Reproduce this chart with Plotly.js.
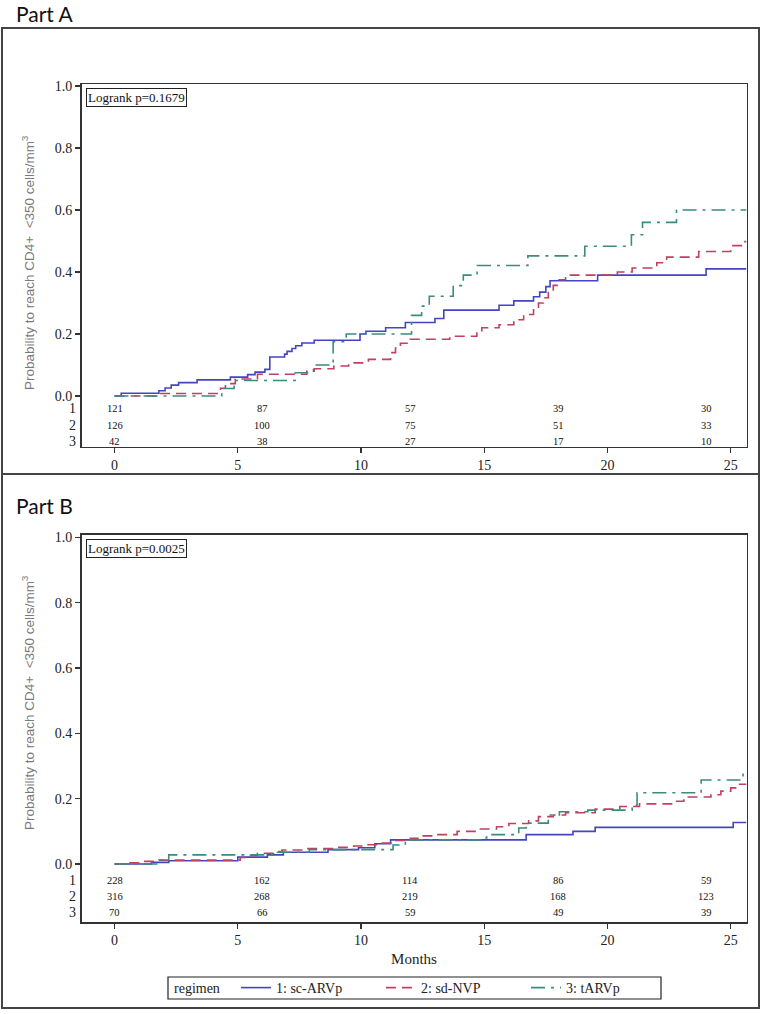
<!DOCTYPE html>
<html><head><meta charset="utf-8">
<script src="https://cdn.plot.ly/plotly-3.0.1.min.js"></script>
<style>html,body{margin:0;padding:0;background:#fff}</style>
</head><body><div id="chart" style="width:764px;height:1014px"></div>
<script>
// ---------- Data ----------
// Part A: Kaplan-Meier cumulative probability (step functions)
const aBlueX = [0,0.27,1.8,2.05,2.3,2.6,3.35,4.7,5.4,5.7,6.1,6.3,6.9,7.0,7.2,7.35,7.6,8.1,9.96,10.2,11.0,11.8,13.0,13.36,15.6,16.2,17.0,17.25,17.5,17.67,19.6,24.0,25.64];
const aBlueY = [0,0.009,0.017,0.026,0.035,0.043,0.052,0.061,0.069,0.077,0.086,0.126,0.135,0.144,0.153,0.162,0.171,0.18,0.2,0.209,0.22,0.237,0.25,0.277,0.293,0.307,0.32,0.335,0.353,0.372,0.39,0.41,0.41];
const aRedX = [0,1.8,4.3,4.5,4.9,5.8,7.8,8.1,8.9,9.5,10.3,11.2,11.4,11.6,12.0,13.6,14.7,14.9,15.6,16.2,16.6,17.0,17.2,17.4,17.6,17.8,18.0,18.3,20.4,21.0,22.0,22.4,23.7,25.0,25.5,25.64];
const aRedY = [0,0.008,0.025,0.04,0.055,0.07,0.08,0.088,0.097,0.107,0.118,0.14,0.155,0.17,0.183,0.193,0.21,0.22,0.23,0.246,0.263,0.283,0.3,0.317,0.337,0.357,0.375,0.39,0.4,0.413,0.43,0.448,0.466,0.485,0.498,0.498];
const aGreenX = [0,4.35,4.85,7.33,8.07,8.87,9.4,12.05,12.46,12.77,13.74,14.15,14.71,16.77,19.08,20.97,21.42,22.8,25.64];
const aGreenY = [0,0.024,0.05,0.075,0.1,0.175,0.2,0.26,0.29,0.322,0.356,0.39,0.421,0.452,0.483,0.52,0.56,0.6,0.6];

// Part B
const bBlueX = [0,1.5,2.2,5.0,6.2,6.85,8.66,9.9,10.56,11.2,16.7,18.6,19.5,25.1,25.64];
const bBlueY = [0,0.005,0.01,0.021,0.028,0.036,0.044,0.05,0.062,0.074,0.09,0.1,0.112,0.127,0.127];
const bRedX = [0,0.5,1.0,1.8,5.1,5.5,5.8,6.45,6.8,7.8,8.9,9.7,10.2,10.8,11.3,12.0,12.4,12.95,13.9,14.7,15.5,16.0,16.8,17.2,17.8,18.3,19.5,20.5,21.3,22.6,23.1,24.2,24.6,25.0,25.3,25.64];
const bRedY = [0,0.004,0.008,0.012,0.02,0.026,0.033,0.038,0.043,0.047,0.051,0.055,0.059,0.064,0.072,0.079,0.086,0.09,0.1,0.107,0.114,0.124,0.132,0.145,0.15,0.157,0.168,0.176,0.184,0.192,0.205,0.212,0.223,0.233,0.244,0.244];
const bGreenX = [0,1.8,2.2,6.4,7.9,11.3,11.8,14.9,15.1,16.4,16.7,17.6,18.05,19.2,21.0,21.2,23.8,25.5,25.64];
const bGreenY = [0,0.012,0.028,0.036,0.044,0.058,0.074,0.08,0.09,0.11,0.125,0.15,0.16,0.165,0.18,0.218,0.257,0.278,0.278];

// Numbers at risk
const riskTimes = [0,6,12,18,24];
const aRisk1 = [121,87,57,39,30];
const aRisk2 = [126,100,75,51,33];
const aRisk3 = [42,38,27,17,10];
const bRisk1 = [228,162,114,86,59];
const bRisk2 = [316,268,219,168,123];
const bRisk3 = [70,66,59,49,39];

const seriesNames = ['1: sc-ARVp','2: sd-NVP','3: tARVp'];
const legendTitle = 'regimen';
const yTickVals = [0,0.2,0.4,0.6,0.8,1.0];
const yTickText = ['0.0','0.2','0.4','0.6','0.8','1.0'];
const xTickVals = [0,5,10,15,20,25];
const pValues = ['Logrank p=0.1679','Logrank p=0.0025'];
const partTitles = ['Part A','Part B'];
const yTitle = 'Probability to reach CD4+  &lt;350 cells/mm<sup>3</sup>';

// ---------- Styles ----------
const W = 764, H = 1014;
const px = v => v / W;           // paper x from pixel
const py = v => 1 - v / H;       // paper y from pixel
const serif = 'Liberation Serif, Times New Roman, serif';
const colors = ['#4444c4', '#c0405e', '#3a8c7c'];
const dashes = ['solid', '10px,6px', '14px,6px,3px,6px'];

function trace(x, y, i, axis, showLegend) {
  return {
    x: x, y: y, type: 'scatter', mode: 'lines',
    line: {shape: 'hv', color: colors[i], width: 1.6, dash: dashes[i]},
    name: seriesNames[i], showlegend: showLegend,
    xaxis: axis === 1 ? 'x' : 'x2', yaxis: axis === 1 ? 'y' : 'y2',
    hoverinfo: 'skip'
  };
}

const data = [
  trace(aBlueX, aBlueY, 0, 1, true),
  trace(aRedX, aRedY, 1, 1, true),
  trace(aGreenX, aGreenY, 2, 1, true),
  trace(bBlueX, bBlueY, 0, 2, false),
  trace(bRedX, bRedY, 1, 2, false),
  trace(bGreenX, bGreenY, 2, 2, false)
];

const axisCommon = {
  showline: true, mirror: true, linecolor: '#333', linewidth: 1.5,
  ticks: 'outside', ticklen: 5, tickwidth: 1.2, tickcolor: '#333',
  showgrid: false, zeroline: false,
  tickfont: {family: serif, size: 14, color: '#222'}
};

const xDom = [px(81.5), px(746.5)];
const layout = {
  width: W, height: H,
  margin: {l: 0, r: 0, t: 0, b: 0, autoexpand: false},
  paper_bgcolor: '#fff', plot_bgcolor: '#fff',
  showlegend: true,
  legend: {
    orientation: 'h', x: px(236), y: py(988), xanchor: 'left', yanchor: 'middle',
    borderwidth: 0, bgcolor: 'rgba(0,0,0,0)',
    font: {family: serif, size: 14, color: '#222'},
    entrywidth: 100, entrywidthmode: 'pixels', itemwidth: 30, tracegroupgap: 0
  },
  xaxis: Object.assign({}, axisCommon, {domain: xDom, range: [-1.34, 25.64], tickvals: xTickVals, anchor: 'y'}),
  yaxis: Object.assign({}, axisCommon, {domain: [py(446.5), py(84)], range: [-0.1629, 1.0065], tickvals: yTickVals, ticktext: yTickText, anchor: 'x'}),
  xaxis2: Object.assign({}, axisCommon, {domain: xDom, range: [-1.34, 25.64], tickvals: xTickVals, anchor: 'y2',
    title: {text: 'Months', font: {family: serif, size: 15, color: '#222'}, standoff: 6}}),
  yaxis2: Object.assign({}, axisCommon, {domain: [py(922), py(534.5)], range: [-0.1775, 1.0086], tickvals: yTickVals, ticktext: yTickText, anchor: 'x2'}),
  shapes: [
    {type: 'rect', xref: 'paper', yref: 'paper', x0: px(2), x1: px(759), y0: py(1008), y1: py(28), line: {color: '#444', width: 2}},
    {type: 'line', xref: 'paper', yref: 'paper', x0: px(2), x1: px(759), y0: py(474), y1: py(474), line: {color: '#444', width: 2}},
    {type: 'rect', xref: 'paper', yref: 'paper', x0: px(168), x1: px(661), y0: py(999), y1: py(977), line: {color: '#222', width: 1.2}}
  ],
  annotations: []
};

const ann = layout.annotations;
// Legend title
ann.push({xref: 'paper', yref: 'paper', x: px(172), y: py(988), xanchor: 'left', yanchor: 'middle', showarrow: false,
  text: legendTitle, font: {family: serif, size: 14, color: '#222'}});
// Part titles
ann.push({xref: 'paper', yref: 'paper', x: px(14), y: py(14), xanchor: 'left', yanchor: 'middle', showarrow: false,
  text: partTitles[0], font: {family: 'Lato, Noto Sans, sans-serif', size: 21, color: '#111'}});
ann.push({xref: 'paper', yref: 'paper', x: px(14), y: py(505), xanchor: 'left', yanchor: 'middle', showarrow: false,
  text: partTitles[1], font: {family: 'Lato, Noto Sans, sans-serif', size: 21, color: '#111'}});
// Y titles
[263, 703].forEach(function (c) {
  ann.push({xref: 'paper', yref: 'paper', x: px(28), y: py(c), xanchor: 'center', yanchor: 'middle', showarrow: false,
    textangle: -90, text: yTitle, font: {family: 'Liberation Sans, Arial, sans-serif', size: 13.5, color: '#7a7a7a'}});
});
// Logrank boxes
ann.push({xref: 'paper', yref: 'paper', x: px(86), y: py(88), xanchor: 'left', yanchor: 'top', showarrow: false,
  text: pValues[0], font: {family: serif, size: 13, color: '#111'}, bordercolor: '#222', borderwidth: 1, borderpad: 1, bgcolor: '#fff'});
ann.push({xref: 'paper', yref: 'paper', x: px(86), y: py(539), xanchor: 'left', yanchor: 'top', showarrow: false,
  text: pValues[1], font: {family: serif, size: 13, color: '#111'}, bordercolor: '#222', borderwidth: 1, borderpad: 1, bgcolor: '#fff'});

// Risk tables
function riskRows(rows, rowYs, xr, yr) {
  rows.forEach(function (row, r) {
    row.forEach(function (v, k) {
      ann.push({xref: xr, yref: yr, x: riskTimes[k], y: rowYs[r], showarrow: false, xanchor: 'center', yanchor: 'middle',
        text: String(v), font: {family: serif, size: 10.5, color: '#111'}});
    });
    ann.push({xref: 'paper', yref: yr, x: px(78), y: rowYs[r], showarrow: false, xanchor: 'right', yanchor: 'middle',
      text: String(r + 1), font: {family: serif, size: 14, color: '#222'}});
  });
}
riskRows([aRisk1, aRisk2, aRisk3], [-0.041, -0.094, -0.146], 'x', 'y');
riskRows([bRisk1, bRisk2, bRisk3], [-0.051, -0.1, -0.149], 'x2', 'y2');

Plotly.newPlot('chart', data, layout, {staticPlot: true});
</script></body></html>
